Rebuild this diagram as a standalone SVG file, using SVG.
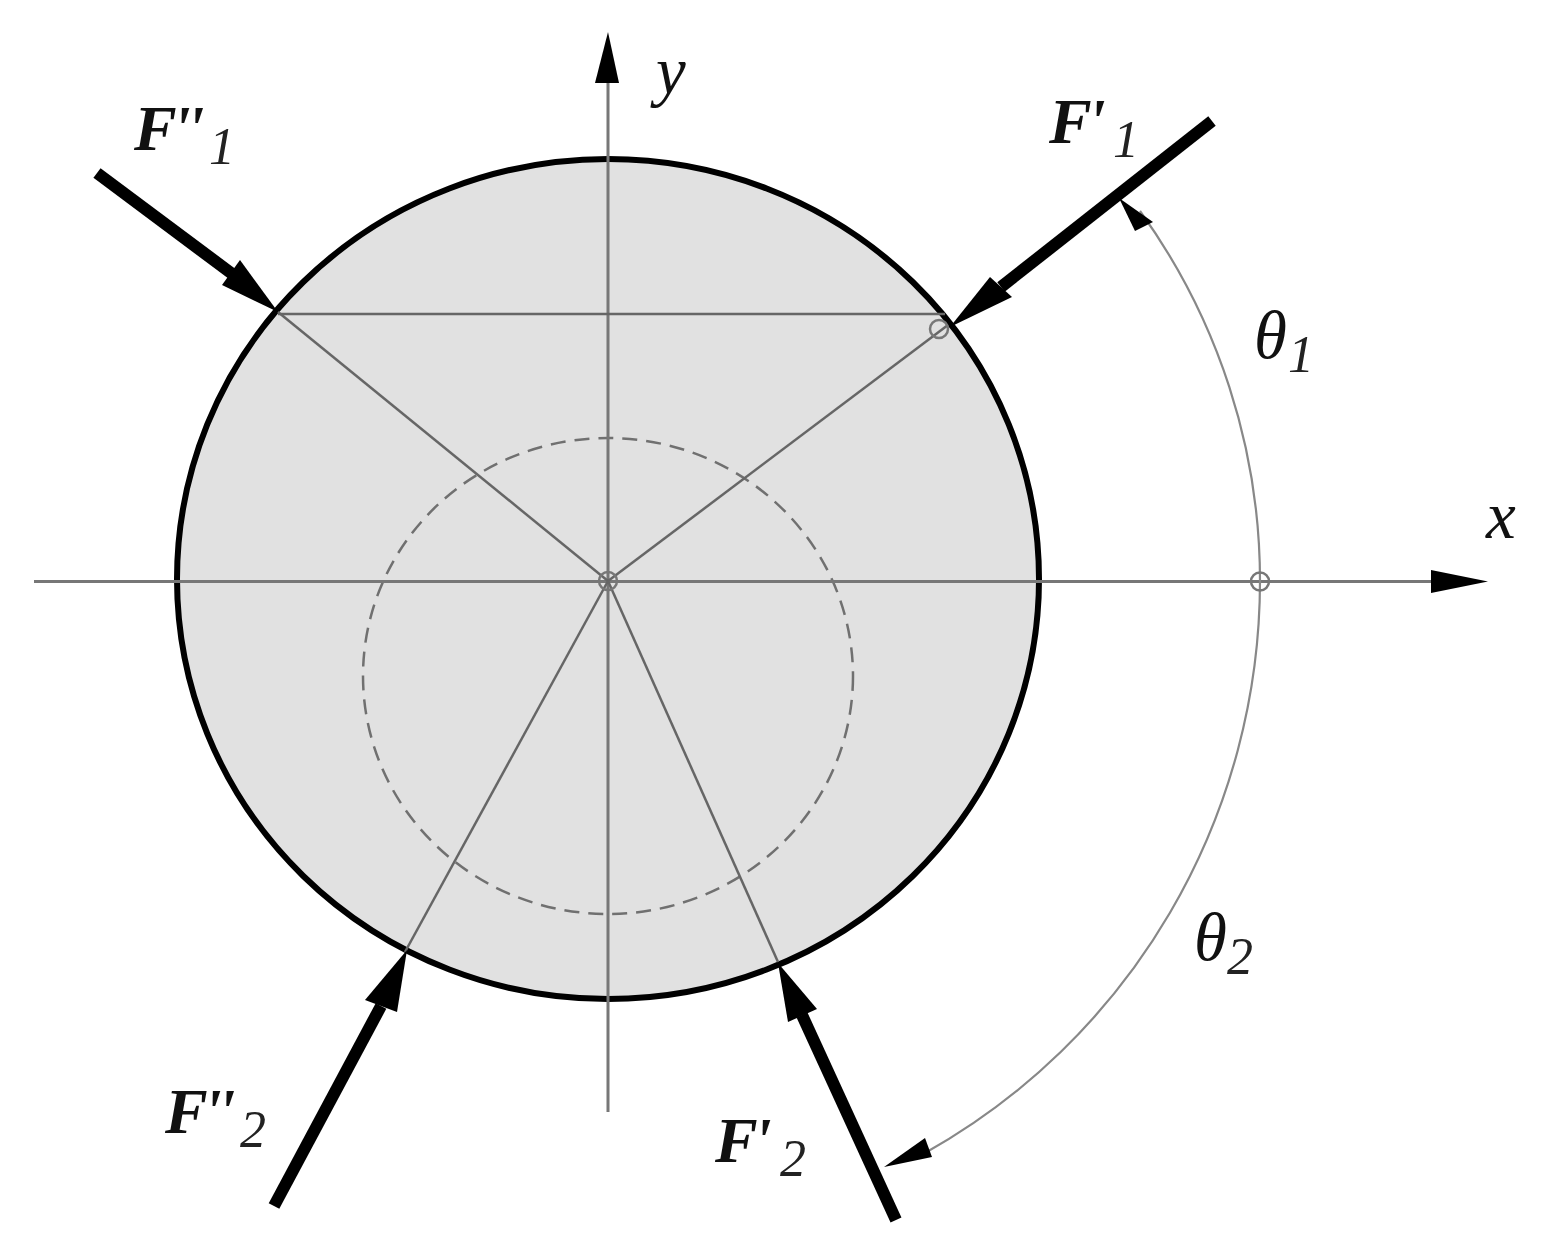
<svg xmlns="http://www.w3.org/2000/svg" width="1550" height="1250" viewBox="0 0 1550 1250">
<style>
.thin{stroke:#666;stroke-width:2.5;fill:none}
.axis{stroke:#777;stroke-width:3;fill:none}
.arc{stroke:#888;stroke-width:2.2;fill:none}
.force{stroke:#000;stroke-width:12;fill:none}
.head{fill:#000}
.lab{font-family:"Liberation Serif","DejaVu Serif",serif;font-style:italic;fill:#111}
.b{font-weight:bold;font-size:64px;letter-spacing:-4px}
.s{font-size:52px;fill:#222}
.g{font-size:67px}
.ring{fill:none;stroke:#777;stroke-width:2.5}
</style>
<g id="disc"><ellipse cx="608" cy="579" rx="431" ry="420" fill="#e1e1e1" stroke="#000" stroke-width="6"/></g>
<g id="pitch-circle"><ellipse cx="608" cy="676" rx="245" ry="238" fill="none" stroke="#707070" stroke-width="2.5" stroke-dasharray="15 9"/></g>
<g id="connectors">
<line class="axis" x1="34" y1="581.5" x2="1440" y2="581.5"/>
<line class="axis" x1="608" y1="60" x2="608" y2="1112"/>
<line class="thin" x1="278" y1="314" x2="945" y2="314"/>
<line class="thin" x1="278" y1="312" x2="608" y2="581"/>
<line class="thin" x1="948" y1="325" x2="608" y2="581"/>
<line class="thin" x1="405" y1="952" x2="608" y2="581"/>
<line class="thin" x1="778" y1="962" x2="608" y2="581"/>
<path class="arc" d="M1140 211A652 640 0 0 1 1260 581A652 655 0 0 1 925 1153"/>
<polygon class="head" points="1119,198 1153,222 1135,231"/>
<polygon class="head" points="884,1167 925,1138 932,1157"/>
<polygon class="head" points="1488,581.5 1431,570 1431,593"/>
<polygon class="head" points="608,32 595,83 619,83"/>
<line class="force" x1="1212" y1="121" x2="1001" y2="287"/>
<polygon class="head" points="950,327 990,277 1012,297"/>
<line class="force" x1="97" y1="173" x2="235" y2="276"/>
<polygon class="head" points="278,312 222,285 240,260"/>
<line class="force" x1="274" y1="1206" x2="381" y2="1006"/>
<polygon class="head" points="407,950 397,1012 365,1000"/>
<line class="force" x1="896" y1="1220" x2="802" y2="1015"/>
<polygon class="head" points="778,963 817,1009 788,1022"/>
</g>
<g id="markers">
<circle class="ring" cx="608" cy="581" r="9"/>
<circle class="ring" cx="1260" cy="581.5" r="9"/>
<circle class="ring" cx="939" cy="329" r="9"/>
</g>
<g id="labels">
<text class="lab g" x="656" y="94">y</text>
<text class="lab g" x="1486" y="538">x</text>
<text class="lab" x="1254" y="358"><tspan class="g">θ</tspan><tspan class="s" x="1288" y="372">1</tspan></text>
<text class="lab" x="1194" y="960"><tspan class="g">θ</tspan><tspan class="s" x="1227" y="974">2</tspan></text>
<text class="lab" x="134" y="150"><tspan class="b">F''</tspan><tspan class="s" x="209" y="164">1</tspan></text>
<text class="lab" x="1049" y="143"><tspan class="b">F'</tspan><tspan class="s" x="1113" y="157">1</tspan></text>
<text class="lab" x="165" y="1133"><tspan class="b">F''</tspan><tspan class="s" x="240" y="1147">2</tspan></text>
<text class="lab" x="715" y="1162"><tspan class="b">F'</tspan><tspan class="s" x="780" y="1176">2</tspan></text>
</g>
</svg>
